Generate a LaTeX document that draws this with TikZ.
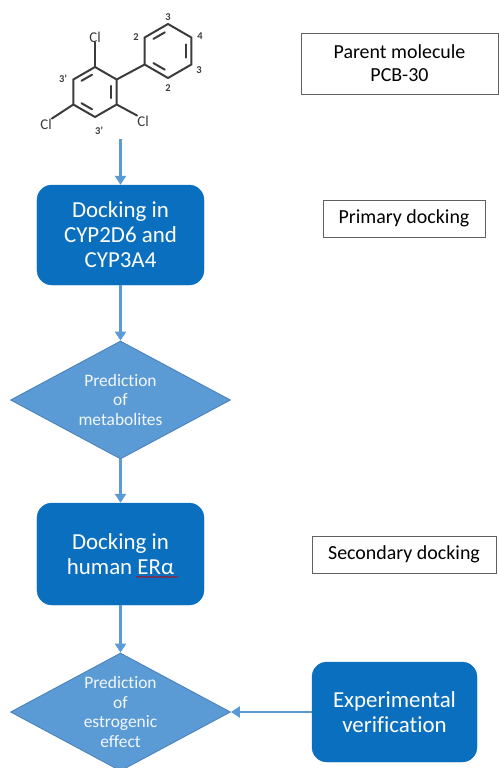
\documentclass[tikz,border=0pt]{standalone}
\usepackage{fontspec}
\setmainfont{Carlito}[Ligatures=NoCommon]
\usepackage{xcolor}
\usetikzlibrary{arrows,arrows.meta,calc,shapes.geometric,decorations.pathmorphing}
\definecolor{boxblue}{HTML}{0B6FC0}
\definecolor{diablue}{HTML}{5B9BD5}
\definecolor{diaborder}{HTML}{4A7EBB}
\definecolor{molgray}{HTML}{3C3C3C}
\tikzset{
  BoxStyle/.style={rectangle, rounded corners=15bp, fill=boxblue, draw=boxblue, text=white, align=center, minimum width=167bp, minimum height=100bp, font=\fontsize{23}{25}\selectfont},
  DiaStyle/.style={diamond, fill=diablue, draw=diaborder, line width=.8bp, text=white!92!diablue, align=center, aspect=1.86, inner sep=-6bp, minimum width=220bp, minimum height=118bp, font=\fontsize{17.5}{19.5}\selectfont},
  TagStyle/.style={rectangle, draw=gray!75!black, line width=.8bp, fill=white, align=center, font=\fontsize{20}{23}\selectfont},
  EdgeStyle/.style={-{Triangle[width=11bp,length=9bp]}, draw=diablue, line width=2.2bp},
  BondStyle/.style={draw=molgray, line width=2bp, line cap=round},
  AtomStyle/.style={text=molgray, inner sep=0pt, font=\fontsize{15}{15}\selectfont},
  NumStyle/.style={text=molgray, inner sep=0pt, font=\bfseries\fontsize{10.5}{10.5}\selectfont}
}
\begin{document}
\begin{tikzpicture}[x=1bp,y=-1bp]
\useasboundingbox (0,0) rectangle (499,768);
\clip (0,0) rectangle (499,768);
\coordinate (lc) at (95,92);
\coordinate (rc) at (168,51);
\foreach \a [count=\i] in {90,30,-30,-90,-150,150}{
  \coordinate (l\i) at ($(lc)+(\a:25 and -25)$);
  \coordinate (r\i) at ($(rc)+(\a:27 and -27)$);
}
\draw[BondStyle] (l1) -- (l2) -- (l3) -- (l4) -- (l5) -- (l6) -- cycle;
\draw[BondStyle] (r1) -- (r2) -- (r3) -- (r4) -- (r5) -- (r6) -- cycle;
\foreach \p/\q in {6/1,2/3,4/5}{
  \draw[BondStyle] ($(lc)!.76!($(l\p)!.18!(l\q)$)$) -- ($(lc)!.76!($(l\q)!.18!(l\p)$)$);
  \draw[BondStyle] ($(rc)!.76!($(r\p)!.18!(r\q)$)$) -- ($(rc)!.76!($(r\q)!.18!(r\p)$)$);
}
\draw[BondStyle] (l2) -- (r5);
\node[AtomStyle] (cltop) at (95,37) {Cl};
\node[AtomStyle] (clleft) at (46,124) {Cl};
\node[AtomStyle] (clright) at (143,121) {Cl};
\draw[BondStyle] (l1) -- (cltop.south);
\draw[BondStyle] (l5) -- (clleft.north east);
\draw[BondStyle] (l3) -- (clright.north west);
\node[NumStyle] (n2a) at (136,37) {2};
\node[NumStyle] (n3a) at (168,17) {3};
\node[NumStyle] (n4) at (200,36) {4};
\node[NumStyle] (n3b) at (199,70) {3};
\node[NumStyle] (n2b) at (168,88) {2};
\node[NumStyle] (n3c) at (63,79) {3'};
\node[NumStyle] (n3d) at (99,131) {3'};
\coordinate (mol) at (120.5,139);
\node[BoxStyle] (dockcyp) at (120.5,235) {Docking in\\CYP2D6 and\\CYP3A4};
\node[DiaStyle] (metab) at (120.5,400) {Prediction\\of\\metabolites};
\node[BoxStyle, minimum height=102bp] (dockera) at (120.5,554) {Docking in\\human ERα};
\node[DiaStyle] (estro) at (120.5,712) {Prediction\\of\\estrogenic\\effect};
\node[BoxStyle, minimum width=165bp] (exper) at (394.5,712) {Experimental\\verification};
\node[TagStyle, minimum width=197bp, minimum height=61bp] (parent) at (399.5,63.5) {Parent molecule\\PCB-30};
\node[TagStyle, minimum width=162bp, minimum height=37bp] (primary) at (404,218.5) {Primary docking};
\node[TagStyle, minimum width=184bp, minimum height=37bp] (second) at (404,554.5) {Secondary docking};
\draw[red!80!black, line width=.6bp, decorate, decoration={snake, amplitude=.7bp, segment length=3bp}] (136,577) -- (178,577);
\draw[EdgeStyle] (mol) -- (dockcyp);
\draw[EdgeStyle] (dockcyp) -- (metab);
\draw[EdgeStyle] (metab) -- (dockera);
\draw[EdgeStyle] (dockera) -- (estro);
\draw[EdgeStyle] (exper) -- (estro);
\end{tikzpicture}
\end{document}
